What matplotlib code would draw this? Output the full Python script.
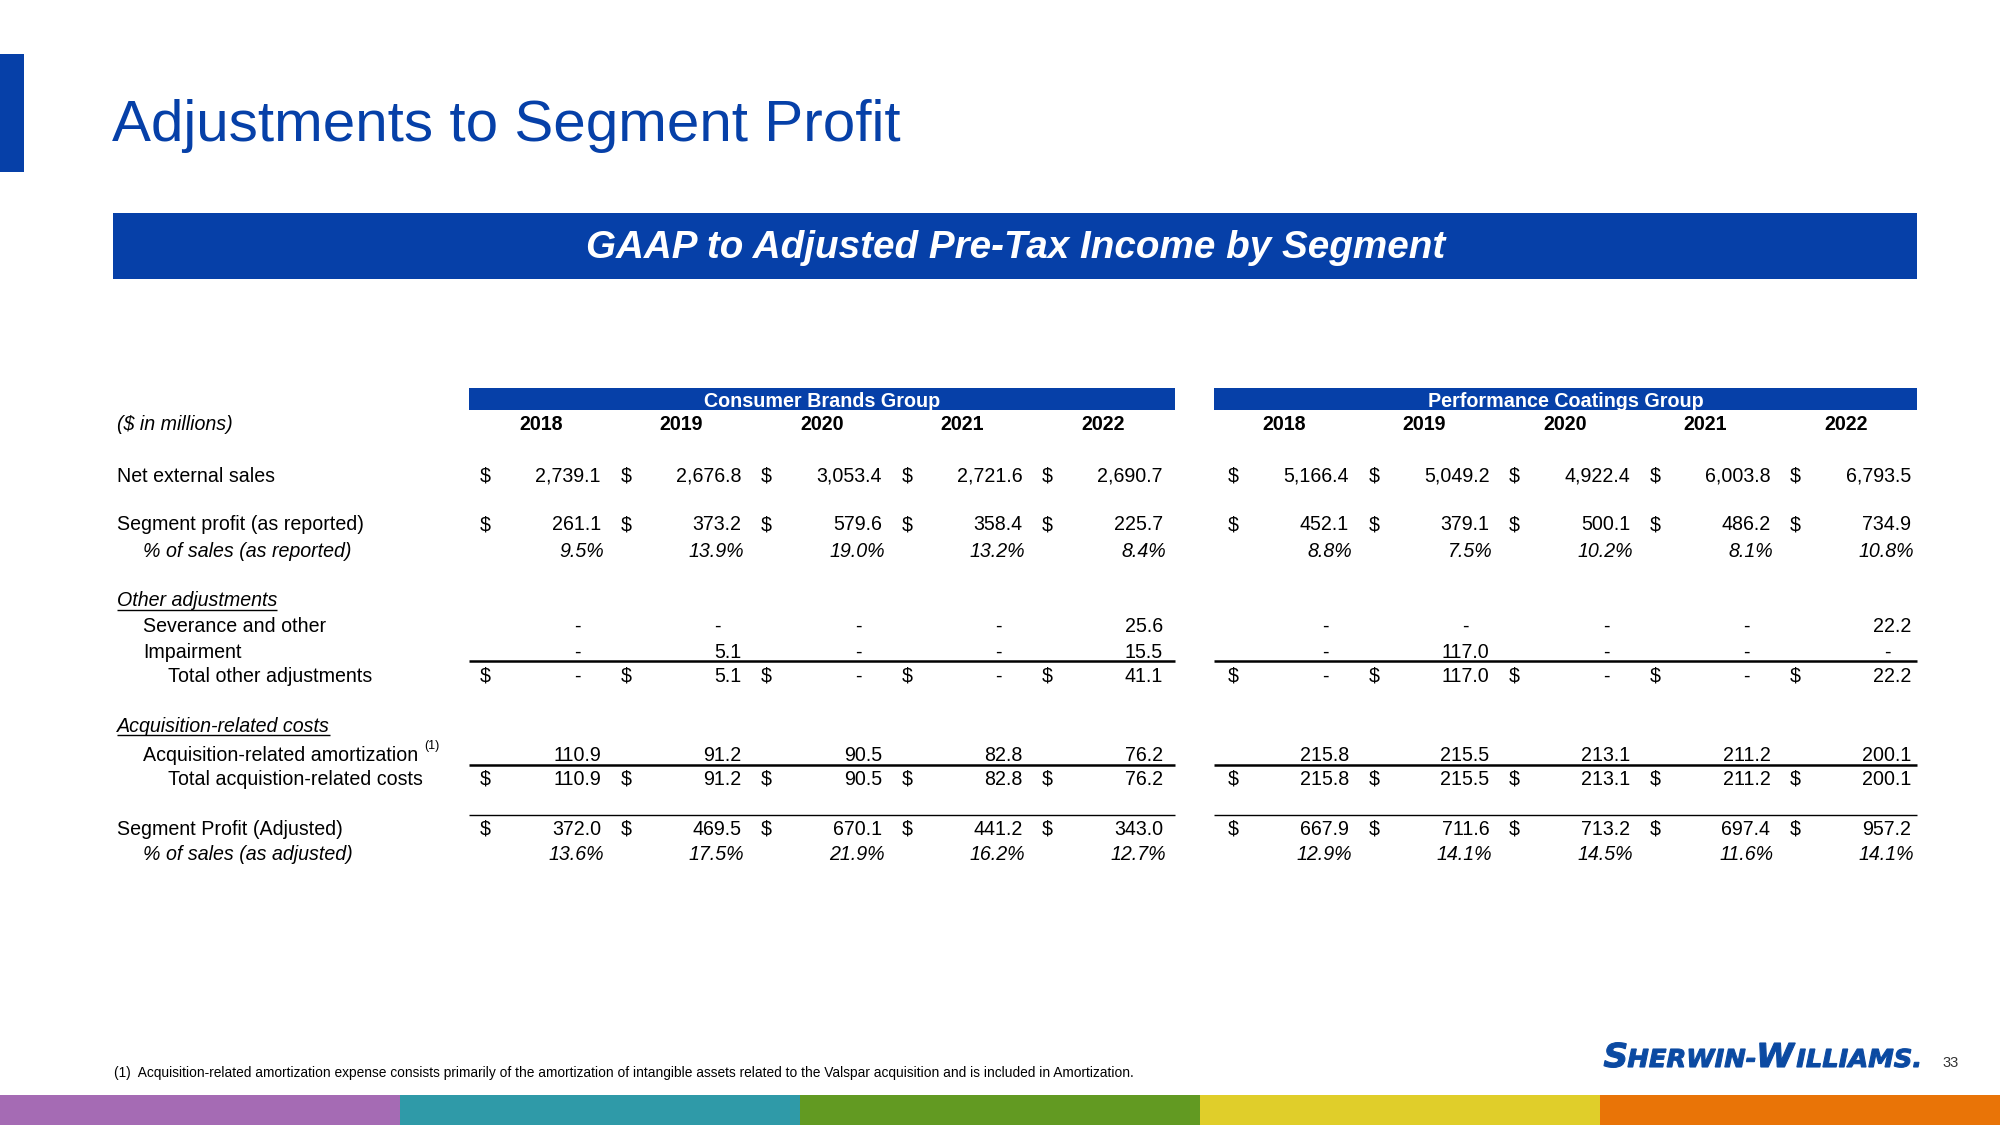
import matplotlib
matplotlib.use("Agg")
import matplotlib.pyplot as plt
from matplotlib.patches import Rectangle, PathPatch
from matplotlib.textpath import TextPath
from matplotlib.font_manager import FontProperties
from matplotlib.path import Path
from matplotlib.transforms import Affine2D

# ---------------- data ----------------
years = ["2018", "2019", "2020", "2021", "2022"]
groups = ["Consumer Brands Group", "Performance Coatings Group"]

cbg_sales = [2739.1, 2676.8, 3053.4, 2721.6, 2690.7]
cbg_profit = [261.1, 373.2, 579.6, 358.4, 225.7]
cbg_pct_rep = [9.5, 13.9, 19.0, 13.2, 8.4]
cbg_sev = [0, 0, 0, 0, 25.6]
cbg_imp = [0, 5.1, 0, 0, 15.5]
cbg_tot_other = [0, 5.1, 0, 0, 41.1]
cbg_amort = [110.9, 91.2, 90.5, 82.8, 76.2]
cbg_tot_acq = [110.9, 91.2, 90.5, 82.8, 76.2]
cbg_adj = [372.0, 469.5, 670.1, 441.2, 343.0]
cbg_pct_adj = [13.6, 17.5, 21.9, 16.2, 12.7]

pcg_sales = [5166.4, 5049.2, 4922.4, 6003.8, 6793.5]
pcg_profit = [452.1, 379.1, 500.1, 486.2, 734.9]
pcg_pct_rep = [8.8, 7.5, 10.2, 8.1, 10.8]
pcg_sev = [0, 0, 0, 0, 22.2]
pcg_imp = [0, 117.0, 0, 0, 0]
pcg_tot_other = [0, 117.0, 0, 0, 22.2]
pcg_amort = [215.8, 215.5, 213.1, 211.2, 200.1]
pcg_tot_acq = [215.8, 215.5, 213.1, 211.2, 200.1]
pcg_adj = [667.9, 711.6, 713.2, 697.4, 957.2]
pcg_pct_adj = [12.9, 14.1, 14.5, 11.6, 14.1]

title = "Adjustments to Segment Profit"
banner = "GAAP to Adjusted Pre-Tax Income by Segment"
footnote = ("(1)  Acquisition-related amortization expense consists primarily of the amortization "
            "of intangible assets related to the Valspar acquisition and is included in Amortization.")
page_no = "33"
logo_pieces = ["S", "HERWIN-", "W", "ILLIAMS."]

# ---------------- styling ----------------
BLUE = "#0640A8"
FONT = "Liberation Sans"
FS = 14.1
plt.rcParams["font.family"] = [FONT, "DejaVu Sans"]

fig = plt.figure(figsize=(20, 11.25), dpi=100)
ax = fig.add_axes([0, 0, 1, 1])
ax.set_xlim(0, 2000)
ax.set_ylim(1125, 0)
ax.axis("off")
renderer = fig.canvas.get_renderer()

# left accent bar
ax.add_patch(Rectangle((0, 54), 24, 118, color=BLUE, lw=0))
ax.text(112, 126, title, fontsize=42, color=BLUE, va="center", ha="left")

# banner
ax.add_patch(Rectangle((113, 213), 1804, 66, color=BLUE, lw=0))
ax.text(1016, 248, banner, fontsize=27.8, color="white", fontweight="bold",
        fontstyle="italic", ha="center", va="center")

# column geometry
group_right0 = [601, 1349]
step = 140.5
group_bar = [(469, 1175), (1214, 1917)]
year_off = [60, 65]

def cols(g):
    return [group_right0[g] + i * step for i in range(5)]

# group header bars and years
hdr_y = 423.5
for g in range(2):
    x0, x1 = group_bar[g]
    ax.add_patch(Rectangle((x0, 388), x1 - x0, 22, color=BLUE, lw=0))
    ax.text((x0 + x1) / 2, 407, groups[g], fontsize=14.2, color="white",
            fontweight="bold", ha="center", va="baseline")
    for i, xr in enumerate(cols(g)):
        ax.text(xr - year_off[g], hdr_y + 7, years[i], fontsize=FS, fontweight="bold",
                ha="center", va="baseline")

ax.text(117, hdr_y + 7, "($ in millions)", fontsize=FS, fontstyle="italic",
        ha="left", va="baseline")

LABEL_X = 117
IND1 = 143
IND2 = 168

def label(x, y, s, italic=False, underline=False):
    t = ax.text(x, y + 7, s, fontsize=FS, fontstyle="italic" if italic else "normal",
                ha="left", va="baseline")
    if underline:
        bb = t.get_window_extent(renderer)
        ax.plot([bb.x0, bb.x1], [y + 10, y + 10], color="black", lw=1.0,
                solid_capstyle="butt")
    return t

def value_row(y, cvals, pvals, dollar=False, pct=False):
    for g, vals in enumerate([cvals, pvals]):
        for i, xr in enumerate(cols(g)):
            v = vals[i]
            if dollar:
                ax.text(xr - 121, y + 7, "$", fontsize=FS, ha="left", va="baseline")
            if pct:
                ax.text(xr + 3, y + 7, f"{v:.1f}%", fontsize=FS, fontstyle="italic",
                        ha="right", va="baseline")
            elif v == 0:
                ax.text(xr - 24, y + 7, "-", fontsize=FS, ha="center", va="baseline")
            else:
                ax.text(xr, y + 7, f"{v:,.1f}", fontsize=FS, ha="right", va="baseline")

def hline(y, lw):
    for x0, x1 in group_bar:
        ax.plot([x0, x1], [y, y], color="black", lw=lw, solid_capstyle="butt")

rows_y = dict(sales=474.5, profit=523, pct=549.7, other=599.5, sev=625, imp=650.5,
              tot_other=674.7, acq=724.5, amort=753.8, tot_acq=778, adj=827.8, pct_adj=853.3)

label(LABEL_X, rows_y["sales"], "Net external sales")
value_row(rows_y["sales"], cbg_sales, pcg_sales, dollar=True)

label(LABEL_X, rows_y["profit"], "Segment profit (as reported)")
value_row(rows_y["profit"], cbg_profit, pcg_profit, dollar=True)

label(IND1, rows_y["pct"], "% of sales (as reported)", italic=True)
value_row(rows_y["pct"], cbg_pct_rep, pcg_pct_rep, pct=True)

label(LABEL_X, rows_y["other"], "Other adjustments", italic=True, underline=True)
label(IND1, rows_y["sev"], "Severance and other")
value_row(rows_y["sev"], cbg_sev, pcg_sev)
label(IND1, rows_y["imp"], "Impairment")
value_row(rows_y["imp"], cbg_imp, pcg_imp)
hline(661, 1.8)
label(IND2, rows_y["tot_other"], "Total other adjustments")
value_row(rows_y["tot_other"], cbg_tot_other, pcg_tot_other, dollar=True)

label(LABEL_X, rows_y["acq"], "Acquisition-related costs", italic=True, underline=True)
t = label(IND1, rows_y["amort"], "Acquisition-related amortization")
bb = t.get_window_extent(renderer)
ax.text(bb.x1 + 6, rows_y["amort"] - 5, "(1)", fontsize=9, ha="left", va="baseline")
value_row(rows_y["amort"], cbg_amort, pcg_amort)
hline(765, 1.8)
label(IND2, rows_y["tot_acq"], "Total acquistion-related costs")
value_row(rows_y["tot_acq"], cbg_tot_acq, pcg_tot_acq, dollar=True)

hline(815, 1.0)
label(LABEL_X, rows_y["adj"], "Segment Profit (Adjusted)")
value_row(rows_y["adj"], cbg_adj, pcg_adj, dollar=True)
label(IND1, rows_y["pct_adj"], "% of sales (as adjusted)", italic=True)
value_row(rows_y["pct_adj"], cbg_pct_adj, pcg_pct_adj, pct=True)

# footnote
ax.text(114, 1073, footnote, fontsize=9.9, ha="left", va="center")

# logo (small caps style, drawn as scaled text paths)
LOGO_BLUE = "#0B4AA2"
fp = FontProperties(family="DejaVu Sans", weight="bold", style="italic")
sizes = [1.0, 0.75, 1.0, 0.75]
verts, codes = [], []
xcur = 0.0
for s, sz in zip(logo_pieces, sizes):
    tp = TextPath((xcur, 0), s, size=sz, prop=fp)
    verts.extend(tp.vertices.tolist())
    codes.extend(tp.codes.tolist())
    xcur = tp.get_extents().x1 + 0.03
logo_path = Path(verts, codes)
ext = logo_path.get_extents()
target_w = 315.0
cap_px = 24.0
sx = target_w / (ext.x1 - ext.x0)
sy = cap_px / 0.729
tr = Affine2D().translate(-ext.x0, 0).scale(sx, -sy).translate(1604, 1067)
ax.add_patch(PathPatch(tr.transform_path(logo_path), facecolor=LOGO_BLUE,
                       edgecolor=LOGO_BLUE, lw=0.8))

ax.text(1951, 1063, page_no, fontsize=10.5, color="#333333",
        ha="center", va="center")

# bottom colour strip
strip_colors = ["#A56BB4", "#2F9AA8", "#629A22", "#E0CE2A", "#E97407"]
for i, c in enumerate(strip_colors):
    ax.add_patch(Rectangle((i * 400, 1095), 400, 30, color=c, lw=0))

fig.savefig("out.png", dpi=100)
